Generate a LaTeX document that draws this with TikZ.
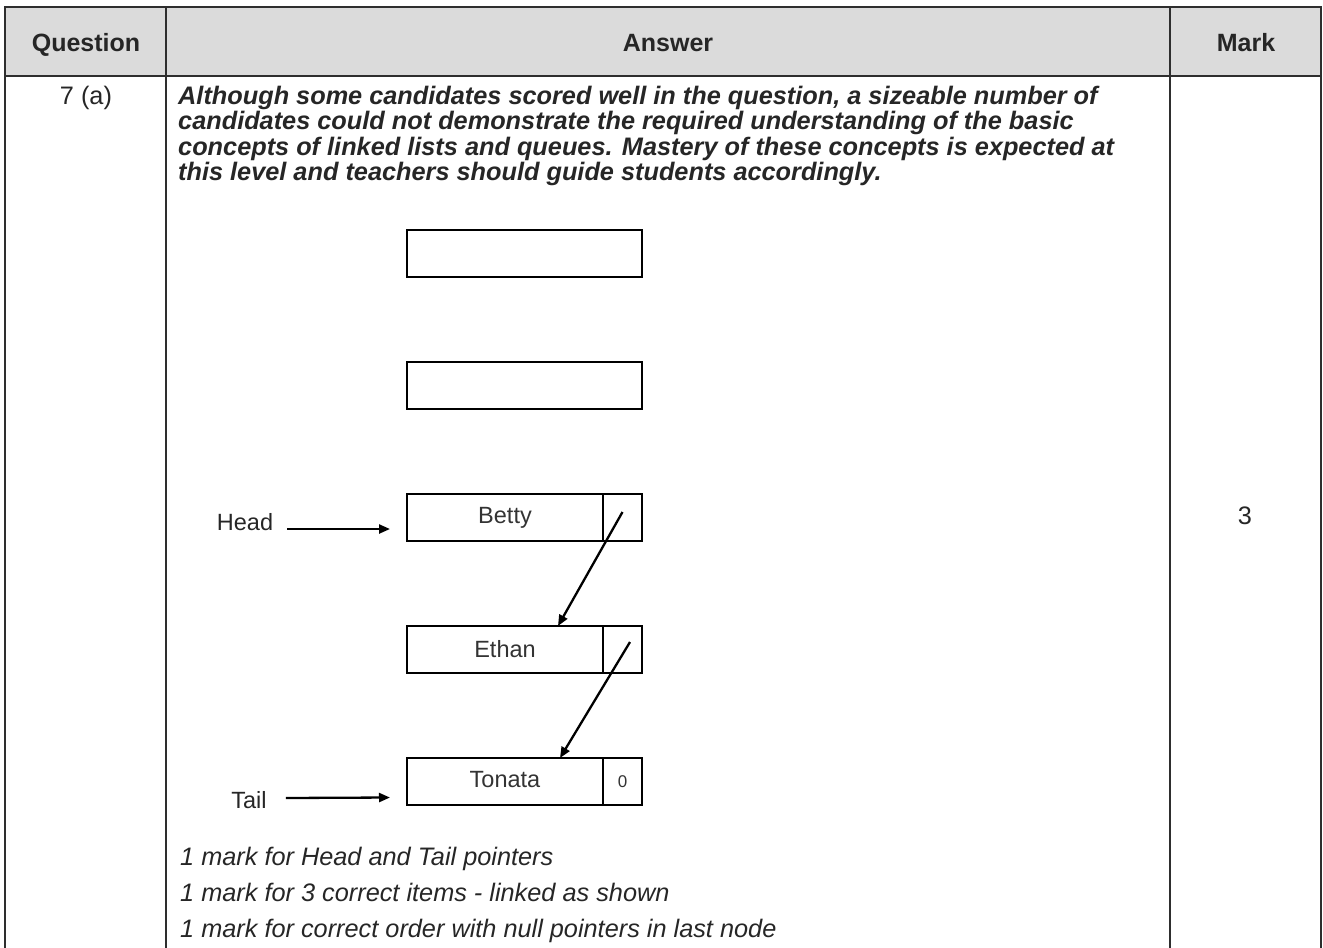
\documentclass[tikz,border=0pt]{standalone}
\usepackage{fontspec}
\setmainfont{Liberation Sans}
\usetikzlibrary{positioning,arrows.meta}

\begin{document}
\begin{tikzpicture}[x=1pt,y=-1pt]
		\tikzstyle{rule}  = [line width=2.6pt, draw=black!82]
		\tikzstyle{hdr}   = [anchor=base, font=\fontsize{25}{27}\selectfont\bfseries, text=black!85]
		\tikzstyle{txt}   = [inner sep=0pt, font=\fontsize{25.3}{25.5}\selectfont, text=black!85]
		\tikzstyle{cell}  = [shape=rectangle, draw, line width=2.8pt, minimum height=47pt, inner sep=0pt, outer sep=0pt, font=\fontsize{23.5}{23.5}\selectfont, text=black!80]
		\tikzstyle{ptr}   = [-{Triangle[length=11pt,width=9pt]}, line width=2.3pt]

		\useasboundingbox (0,0) rectangle (1323,948);
		% table
		\fill[black!14] (5,7) rectangle (1321,76);
		\draw[rule] (5,948) -- (5,7) -- (1321,7) -- (1321,948);
		\draw[rule] (5,76) -- (1321,76);
		\draw[rule] (166,7) -- (166,948);
		\draw[rule] (1170,7) -- (1170,948);

		\node[hdr] (hdrq) at (86,51) {Question};
		\node[hdr] (hdra) at (668,51) {Answer};
		\node[hdr] (hdrm) at (1246,51) {Mark};

		\node[txt, anchor=base] (qnum) at (86,104) {7 (a)};
		\node[txt, anchor=base] (mark) at (1245,524) {3};
		\node[txt, anchor=base west, align=left, font=\fontsize{25.3}{25.5}\selectfont\bfseries\itshape] (remark) at (178,180.5)
			{Although some candidates scored well in the question, a sizeable number of\\
			 candidates could not demonstrate the required understanding of the basic\\
			 concepts of linked lists and queues. Mastery of these concepts is expected at\\
			 this level and teachers should guide students accordingly.};

		% list
		\node[cell, minimum width=196pt] (betty) at (505,517.5) {Betty};
		\node[cell, minimum width=39pt, right=0pt of betty] (bettyptr) {};
		\node[cell, minimum width=196pt, below=85pt of betty] (ethan) {Ethan};
		\node[cell, minimum width=39pt, right=0pt of ethan] (ethanptr) {};
		\node[cell, minimum width=196pt, below=85pt of ethan] (tonata) {\raisebox{4pt}{Tonata}};
		\node[cell, minimum width=39pt, right=0pt of tonata, font=\fontsize{17}{17}\selectfont] (tonataptr) {0};
		\node[cell, minimum width=235pt, above=85pt of betty.north west, anchor=south west] (free2) {};
		\node[cell, minimum width=235pt, above=85pt of free2] (free1) {};

		\node[txt, font=\fontsize{23.5}{23.5}\selectfont] (head) at (245,522) {Head};
		\node[txt, font=\fontsize{23.5}{23.5}\selectfont] (tail) at (249,800) {Tail};

		\draw[ptr] ([xshift=14pt,yshift=-7pt]head.east) -- ([xshift=-17pt,yshift=-11.5pt]betty.west);
		\draw[ptr] ([xshift=19pt,yshift=2pt]tail.east) -- ([xshift=-17pt,yshift=-16pt]tonata.west);
		\draw[ptr] ([yshift=5.5pt]bettyptr.center) -- ([xshift=53pt]ethan.north);
		\draw[ptr] ([xshift=7.5pt,yshift=7.5pt]ethanptr.center) -- ([xshift=55pt]tonata.north);

		\node[txt, anchor=base west, font=\fontsize{25.3}{25.5}\selectfont\itshape] (mk1) at (180,865) {1 mark for Head and Tail pointers};
		\node[txt, anchor=base west, font=\fontsize{25.3}{25.5}\selectfont\itshape] (mk2) at (180,901) {1 mark for 3 correct items - linked as shown};
		\node[txt, anchor=base west, font=\fontsize{25.3}{25.5}\selectfont\itshape] (mk3) at (180,937) {1 mark for correct order with null pointers in last node};
	\end{tikzpicture}
\end{document}
